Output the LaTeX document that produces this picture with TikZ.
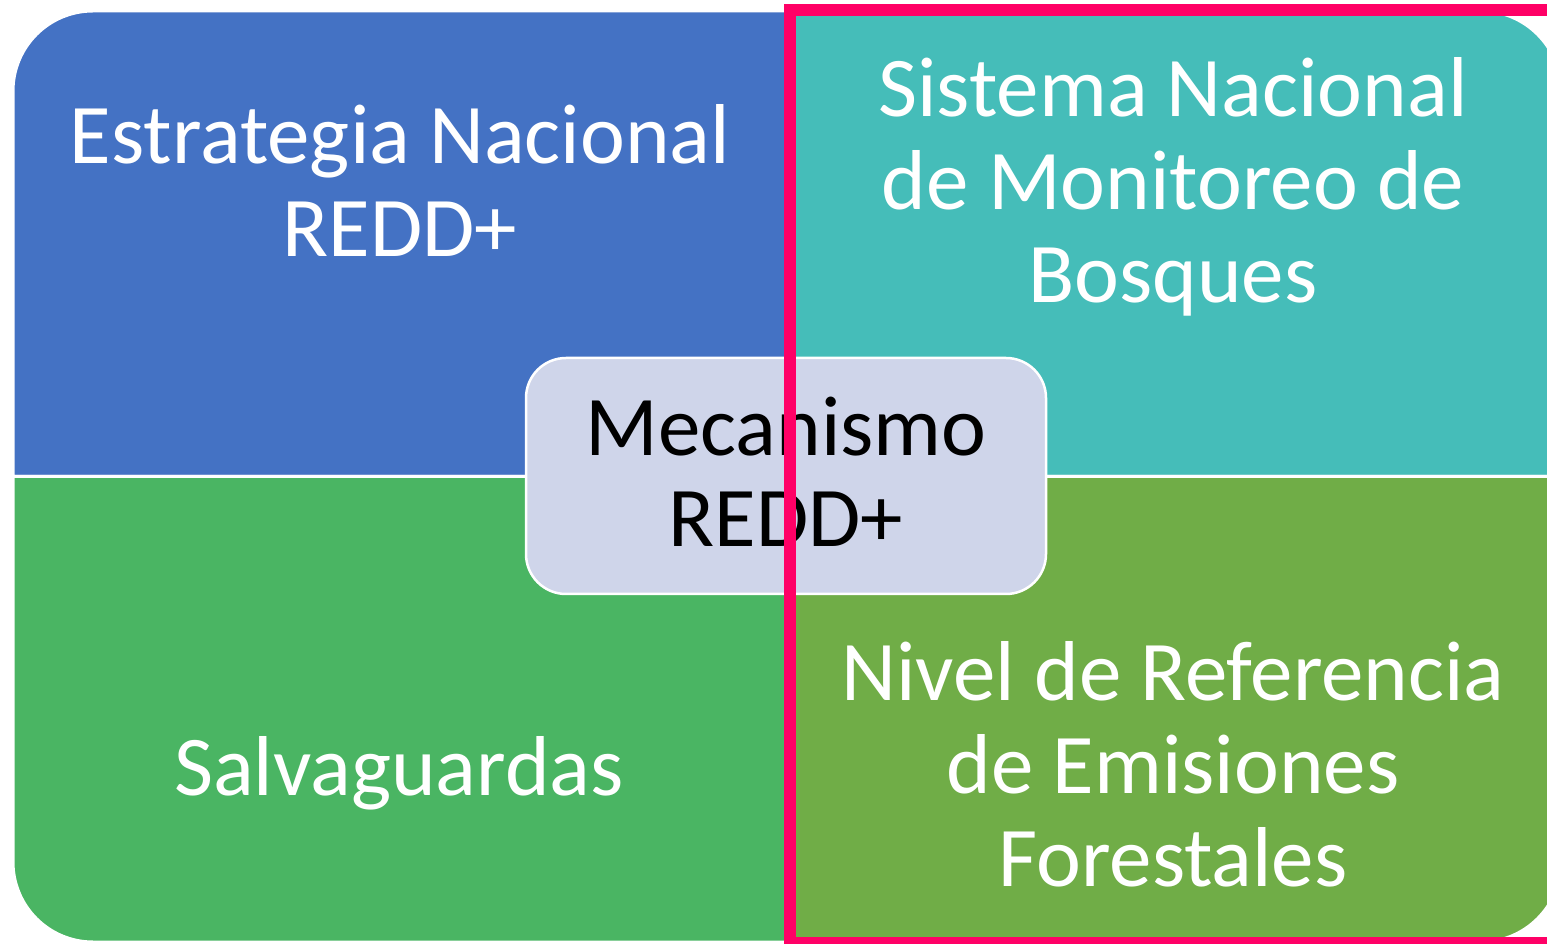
\documentclass[tikz,border=0pt]{standalone}
\usepackage{fontspec}
\setmainfont{Carlito}
\definecolor{qblue}{HTML}{4472C4}
\definecolor{qteal}{HTML}{45BDB9}
\definecolor{qgreen}{HTML}{4AB563}
\definecolor{qolive}{HTML}{70AD47}
\definecolor{qcenter}{HTML}{CFD5EA}
\definecolor{qpink}{HTML}{FF0066}
\tikzset{
  quad/.style={draw=white, line width=3pt},
  qtext/.style={text=white, align=center, font=\fontsize{85}{93}\selectfont, inner sep=0pt},
  hub/.style={draw=white, line width=2.5pt, fill=qcenter, rounded corners=40pt,
    minimum width=520pt, minimum height=236pt, align=center, inner sep=0pt,
    text=black},
  frame/.style={draw=qpink, line width=12pt}
}
\begin{document}
\begin{tikzpicture}[x=1pt,y=1pt]
\useasboundingbox (0,0) rectangle (1547,943);
\clip (0,0) rectangle (1547,943);
% quadrants
\path[quad, fill=qblue] (787,466.5) -- (13,466.5) -- (13,852) arc[start angle=180,end angle=90,radius=80] -- (787,932) -- cycle;
\path[quad, fill=qteal] (787,466.5) -- (787,932) -- (1481,932) arc[start angle=90,end angle=0,radius=80] -- (1561,466.5) -- cycle;
\path[quad, fill=qolive] (787,466.5) -- (1561,466.5) -- (1561,81) arc[start angle=0,end angle=-90,radius=80] -- (787,1) -- cycle;
\path[quad, fill=qgreen] (787,466.5) -- (787,1) -- (93,1) arc[start angle=270,end angle=180,radius=80] -- (13,466.5) -- cycle;
% texts
\node[qtext] (est) at (400,763) {Estrategia Nacional\\REDD+};
\node[qtext] (sis) at (1173,756) {Sistema Nacional\\de Monitoreo de\\Bosques};
\node[qtext] (sal) at (399,170) {Salvaguardas};
\node[qtext] (niv) at (1173,179) {Nivel de Referencia\\de Emisiones\\Forestales};
% centre
\node[hub] (mec) at (786,467) {};
\node[text=black, align=center, inner sep=0pt, font=\fontsize{85}{91}\selectfont] (mect) at (786,471) {Mecanismo\\REDD+};
% highlight frame
\draw[frame] (790,933) rectangle (1600,0);
\end{tikzpicture}
\end{document}
